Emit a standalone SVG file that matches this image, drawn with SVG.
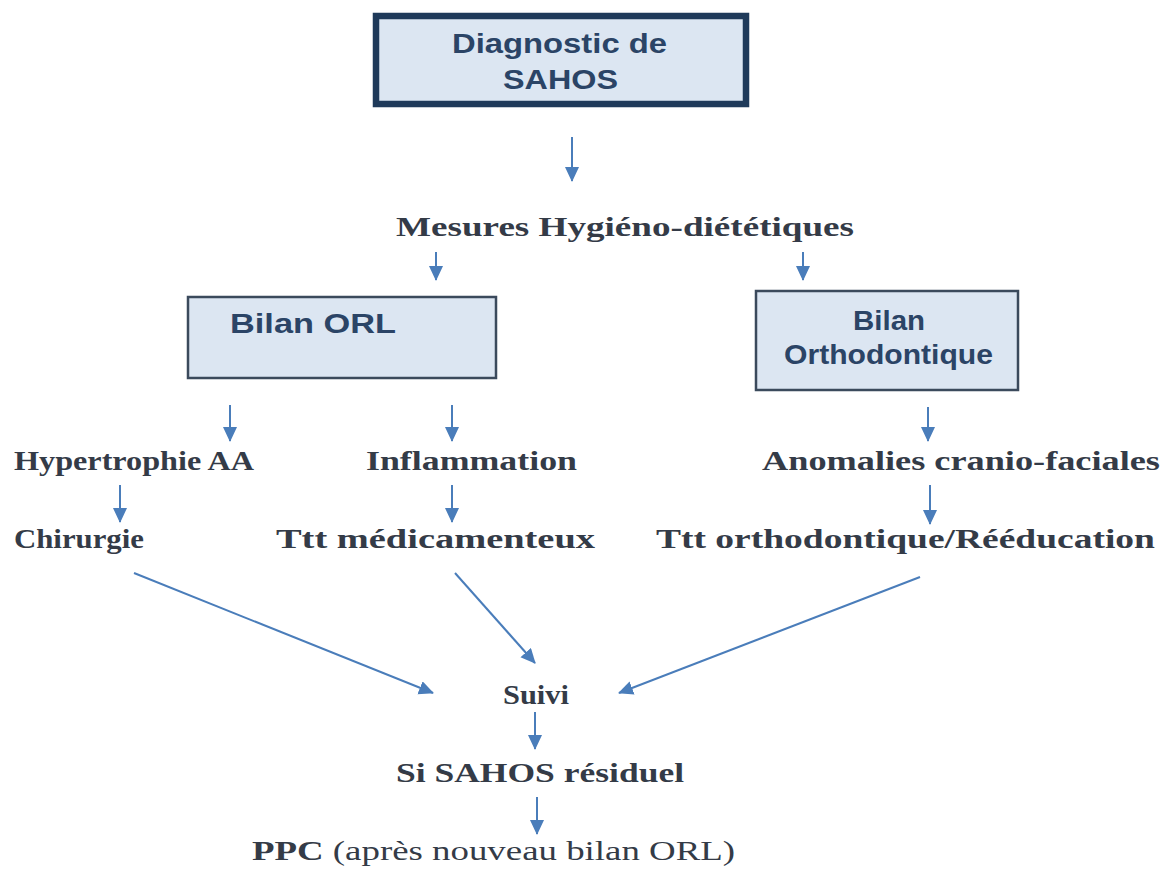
<svg xmlns="http://www.w3.org/2000/svg" width="1172" height="870" viewBox="0 0 1172 870">
<style>
.box{fill:#dce6f2;stroke:#3b4a5c;stroke-width:2.5}
.main{fill:#dce6f2;stroke:#1f3a5a;stroke-width:6.5}
.bt{font-family:"Liberation Sans",Arial,sans-serif;font-weight:bold;font-size:27px;fill:#2b4466}
.st{font-family:"Liberation Serif","Times New Roman",serif;font-weight:bold;font-size:27px;fill:#343b47}
.nt{font-weight:normal}
.c{stroke:#4a7dba;stroke-width:2;fill:none;marker-end:url(#ah)}
</style>
<defs>
<marker id="ah" markerUnits="userSpaceOnUse" markerWidth="18" markerHeight="16" refX="14" refY="7" orient="auto">
<path d="M0,0 L15,7 L0,14 z" fill="#4a7dba"/>
</marker>
</defs>
<rect width="1172" height="870" fill="#ffffff"/>
<g id="connectors">
<line class="c" x1="572" y1="137" x2="572" y2="181"/>
<line class="c" x1="436" y1="252" x2="436" y2="280"/>
<line class="c" x1="803" y1="252" x2="803" y2="280"/>
<line class="c" x1="230" y1="405" x2="230" y2="441"/>
<line class="c" x1="452" y1="405" x2="452" y2="441"/>
<line class="c" x1="928" y1="407" x2="928" y2="441"/>
<line class="c" x1="120" y1="485" x2="120" y2="522"/>
<line class="c" x1="452" y1="485" x2="452" y2="522"/>
<line class="c" x1="930" y1="485" x2="930" y2="524"/>
<line class="c" x1="134" y1="573" x2="433" y2="693"/>
<line class="c" x1="455" y1="573" x2="535" y2="663"/>
<line class="c" x1="920" y1="577" x2="619" y2="693"/>
<line class="c" x1="535" y1="712" x2="535" y2="749"/>
<line class="c" x1="537" y1="797" x2="537" y2="834"/>
</g>
<g id="diagnostic">
<rect class="main" x="376" y="16" width="370" height="88"/>
<text class="bt" x="452" y="53" textLength="215" lengthAdjust="spacingAndGlyphs">Diagnostic de</text>
<text class="bt" x="503" y="89" textLength="115" lengthAdjust="spacingAndGlyphs">SAHOS</text>
</g>
<g id="mesures">
<text class="st" x="396" y="236" textLength="458" lengthAdjust="spacingAndGlyphs">Mesures Hygiéno-diététiques</text>
</g>
<g id="bilan-orl">
<rect class="box" x="188" y="297" width="308" height="81"/>
<text class="bt" x="230" y="333" textLength="166" lengthAdjust="spacingAndGlyphs">Bilan ORL</text>
</g>
<g id="bilan-ortho">
<rect class="box" x="756" y="291" width="262" height="99"/>
<text class="bt" x="853" y="330" textLength="72" lengthAdjust="spacingAndGlyphs">Bilan</text>
<text class="bt" x="784" y="364" textLength="209" lengthAdjust="spacingAndGlyphs">Orthodontique</text>
</g>
<g id="hypertrophie">
<text class="st" x="14" y="470" textLength="240" lengthAdjust="spacingAndGlyphs">Hypertrophie AA</text>
</g>
<g id="inflammation">
<text class="st" x="366" y="470" textLength="211" lengthAdjust="spacingAndGlyphs">Inflammation</text>
</g>
<g id="anomalies">
<text class="st" x="762" y="470" textLength="398" lengthAdjust="spacingAndGlyphs">Anomalies cranio-faciales</text>
</g>
<g id="chirurgie">
<text class="st" x="14" y="548" textLength="130" lengthAdjust="spacingAndGlyphs">Chirurgie</text>
</g>
<g id="ttt-medic">
<text class="st" x="276" y="548" textLength="319" lengthAdjust="spacingAndGlyphs">Ttt médicamenteux</text>
</g>
<g id="ttt-ortho">
<text class="st" x="656" y="548" textLength="499" lengthAdjust="spacingAndGlyphs">Ttt orthodontique/Rééducation</text>
</g>
<g id="suivi">
<text class="st" x="503" y="704" textLength="66" lengthAdjust="spacingAndGlyphs">Suivi</text>
</g>
<g id="residuel">
<text class="st" x="396" y="782" textLength="288" lengthAdjust="spacingAndGlyphs">Si SAHOS résiduel</text>
</g>
<g id="ppc">
<text class="st" x="252" y="860" textLength="483" lengthAdjust="spacingAndGlyphs">PPC <tspan class="nt">(après nouveau bilan ORL)</tspan></text>
</g>
</svg>
